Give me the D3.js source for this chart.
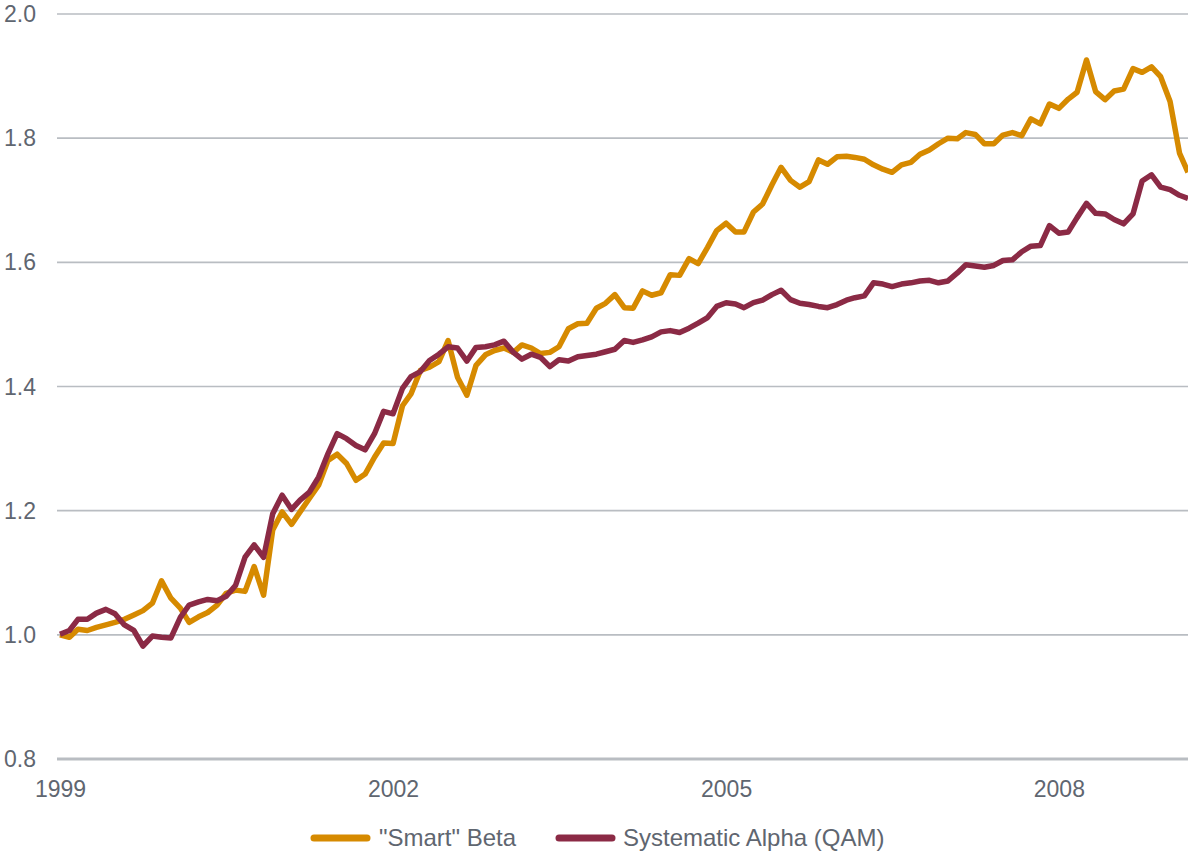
<!DOCTYPE html>
<html>
<head>
<meta charset="utf-8">
<script src="https://cdn.jsdelivr.net/npm/d3@7"></script>
<style>
  body { margin: 0; background: #fff; }
  svg text { font-family: "Liberation Sans", Arial, sans-serif; fill: #5f6670; }
</style>
</head>
<body>
<div id="chart"></div>
<script>
// monthly series, Jan 1999 .. Mar 2009
const startMonth = new Date(1999, 0, 1);
const endMonth = new Date(2009, 3, 1);

const smartBeta = [
  1.000, 0.996, 1.009, 1.007, 1.012, 1.016, 1.020, 1.025, 1.032, 1.039, 1.051, 1.087,
  1.059, 1.043, 1.020, 1.029, 1.036, 1.048, 1.067, 1.072, 1.070, 1.110, 1.064, 1.169,
  1.198, 1.178, 1.198, 1.220, 1.241, 1.281, 1.291, 1.276, 1.249, 1.259, 1.286, 1.309,
  1.308, 1.369, 1.388, 1.426, 1.431, 1.440, 1.474, 1.415, 1.386, 1.434, 1.451, 1.458,
  1.462, 1.455, 1.467, 1.462, 1.453, 1.455, 1.464, 1.493, 1.501, 1.502, 1.526, 1.534,
  1.548, 1.527, 1.526, 1.554, 1.547, 1.551, 1.580, 1.579, 1.606, 1.598, 1.624, 1.651,
  1.663, 1.649, 1.649, 1.681, 1.694, 1.725, 1.753, 1.732, 1.721, 1.730, 1.765, 1.758,
  1.770, 1.771, 1.769, 1.766, 1.757, 1.750, 1.745, 1.757, 1.761, 1.774, 1.781, 1.791,
  1.800, 1.799, 1.809, 1.806, 1.791, 1.791, 1.805, 1.809, 1.804, 1.831, 1.823, 1.855,
  1.848, 1.863, 1.874, 1.926, 1.875, 1.862, 1.876, 1.879, 1.912, 1.906, 1.915, 1.899,
  1.859, 1.776, 1.745
];

const systematicAlpha = [
  1.001, 1.007, 1.025, 1.025, 1.035, 1.041, 1.034, 1.016, 1.007, 0.982, 0.998, 0.996,
  0.995, 1.028, 1.048, 1.053, 1.057, 1.055, 1.062, 1.080, 1.125, 1.145, 1.125, 1.195,
  1.225, 1.202, 1.217, 1.230, 1.254, 1.292, 1.324, 1.316, 1.305, 1.298, 1.324, 1.360,
  1.356, 1.397, 1.416, 1.424, 1.442, 1.452, 1.464, 1.462, 1.441, 1.463, 1.464, 1.467,
  1.473, 1.455, 1.444, 1.452, 1.447, 1.432, 1.443, 1.441, 1.448, 1.450, 1.452, 1.456,
  1.460, 1.474, 1.471, 1.475, 1.480, 1.488, 1.490, 1.487, 1.494, 1.502, 1.511, 1.529,
  1.535, 1.533, 1.527, 1.535, 1.539, 1.548, 1.555, 1.540, 1.534, 1.532, 1.529, 1.527,
  1.532, 1.539, 1.543, 1.546, 1.567, 1.565, 1.561, 1.565, 1.567, 1.570, 1.571, 1.567,
  1.570, 1.583, 1.596, 1.594, 1.592, 1.595, 1.603, 1.604, 1.617, 1.626, 1.627, 1.659,
  1.647, 1.649, 1.672, 1.695, 1.679, 1.678, 1.669, 1.662, 1.678, 1.731, 1.741, 1.721,
  1.717, 1.708, 1.703
];

const yTicks = [0.8, 1.0, 1.2, 1.4, 1.6, 1.8, 2.0];
const xTickYears = [1999, 2002, 2005, 2008];
const seriesNames = ['"Smart" Beta', 'Systematic Alpha (QAM)'];
const seriesColors = ['#d68a00', '#8b2a45'];

const width = 1188, height = 854;
const margin = { left: 60, right: 0, top: 14, bottom: 95, gridLeft: 57 };

const months = d3.timeMonths(startMonth, endMonth);

const svg = d3.select('#chart').append('svg')
  .attr('width', width)
  .attr('height', height);

const x = d3.scaleTime()
  .domain([months[0], months[months.length - 1]])
  .range([margin.left, width - margin.right]);

const y = d3.scaleLinear()
  .domain([0.8, 2.0])
  .range([height - margin.bottom, margin.top]);

// gridlines
svg.append('g')
  .selectAll('line')
  .data(yTicks)
  .enter()
  .append('line')
    .attr('x1', margin.gridLeft)
    .attr('x2', width)
    .attr('y1', d => y(d))
    .attr('y2', d => y(d))
    .attr('stroke', '#b9bdc2')
    .attr('stroke-width', d => d === 0.8 ? 3 : 1.6);

// y labels
svg.append('g')
  .selectAll('text')
  .data(yTicks)
  .enter()
  .append('text')
    .attr('x', 36)
    .attr('y', d => y(d))
    .attr('dy', '0.35em')
    .attr('text-anchor', 'end')
    .style('font-size', '23px')
    .text(d => d3.format('.1f')(d));

// x axis labels
const xAxis = d3.axisBottom(x)
  .tickValues(xTickYears.map(yr => new Date(yr, 0, 1)))
  .tickFormat(d3.timeFormat('%Y'))
  .tickSize(0)
  .tickPadding(0);

const gx = svg.append('g')
  .attr('transform', 'translate(0,' + (height - margin.bottom) + ')')
  .call(xAxis);
gx.select('.domain').remove();
gx.selectAll('text')
  .attr('y', 38)
  .attr('dy', null)
  .style('font-size', '23px')
  .style('font-family', '"Liberation Sans", Arial, sans-serif')
  .attr('fill', '#5f6670');

// lines
const line = d3.line()
  .x((d, i) => x(months[i]))
  .y(d => y(d));

[smartBeta, systematicAlpha].forEach(function(series, k) {
  svg.append('path')
    .datum(series)
    .attr('fill', 'none')
    .attr('stroke', seriesColors[k])
    .attr('stroke-width', 5.5)
    .attr('stroke-linejoin', 'round')
    .attr('d', line);
});

// legend
const legendItems = [
  { x1: 314, x2: 367, tx: 379 },
  { x1: 559, x2: 612, tx: 623 }
];
const legend = svg.append('g').attr('class', 'legend');
legendItems.forEach(function(item, k) {
  legend.append('line')
    .attr('x1', item.x1)
    .attr('x2', item.x2)
    .attr('y1', 838)
    .attr('y2', 838)
    .attr('stroke', seriesColors[k])
    .attr('stroke-width', 7)
    .attr('stroke-linecap', 'round');
  legend.append('text')
    .attr('x', item.tx)
    .attr('y', 838)
    .attr('dy', '0.35em')
    .style('font-size', '24px')
    .text(seriesNames[k]);
});
</script>
</body>
</html>
